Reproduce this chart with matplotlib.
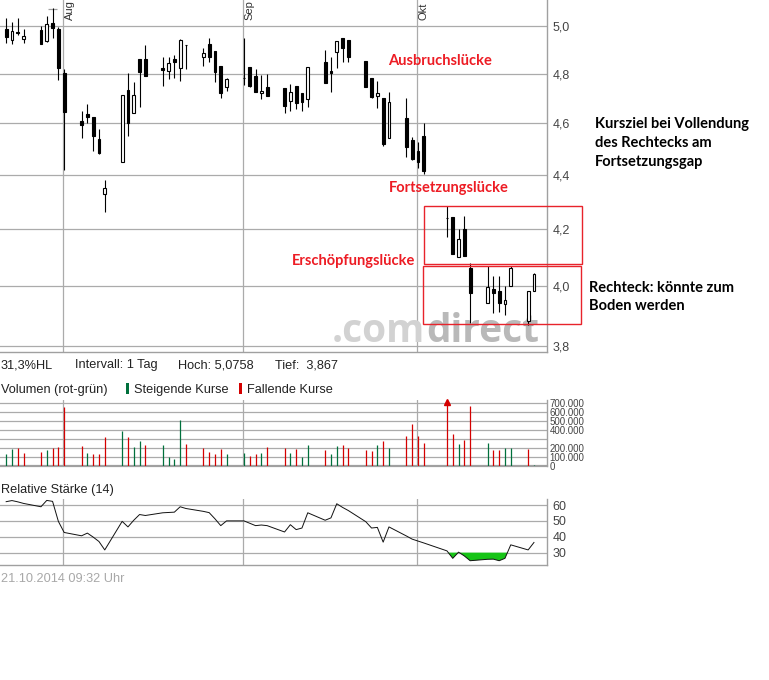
import numpy as np
import matplotlib
matplotlib.use('Agg')
import matplotlib.pyplot as plt
import matplotlib.dates as mdates
import matplotlib.transforms as mtransforms
from matplotlib.patches import Rectangle
from matplotlib.ticker import FixedLocator, NullLocator, FuncFormatter

plt.rcParams['font.family'] = ['Liberation Sans', 'DejaVu Sans']

# ---- data ----
days = ['2014-07-22', '2014-07-23', '2014-07-24', '2014-07-25', '2014-07-28', '2014-07-29', '2014-07-30',
        '2014-07-31', '2014-08-01', '2014-08-04', '2014-08-05', '2014-08-06', '2014-08-07', '2014-08-08',
        '2014-08-11', '2014-08-12', '2014-08-13', '2014-08-14', '2014-08-15', '2014-08-18', '2014-08-19',
        '2014-08-20', '2014-08-21', '2014-08-22', '2014-08-25', '2014-08-26', '2014-08-27', '2014-08-28',
        '2014-08-29', '2014-09-01', '2014-09-02', '2014-09-03', '2014-09-04', '2014-09-05', '2014-09-08',
        '2014-09-09', '2014-09-10', '2014-09-11', '2014-09-12', '2014-09-15', '2014-09-16', '2014-09-17',
        '2014-09-18', '2014-09-19', '2014-09-22', '2014-09-23', '2014-09-24', '2014-09-25', '2014-09-26',
        '2014-09-29', '2014-09-30', '2014-10-01', '2014-10-02', '2014-10-06', '2014-10-07', '2014-10-08',
        '2014-10-09', '2014-10-10', '2014-10-13', '2014-10-14', '2014-10-15', '2014-10-16', '2014-10-17',
        '2014-10-20', '2014-10-21']

opens = [4.987, 4.940, 4.974, 4.945, 4.983, 4.936, 5.013, 4.987, 4.802, 4.608, 4.636, 4.624, 4.538, 4.329,
         4.449, 4.733, 4.640, 4.860, 4.860, 4.823, 4.811, 4.860, 4.823, 4.919, 4.869, 4.923, 4.894, 4.831,
         4.745, 4.782, 4.827, 4.790, 4.721, 4.745, 4.741, 4.688, 4.749, 4.721, 4.696, 4.848, 4.811, 4.890,
         4.949, 4.940, 4.852, 4.782, 4.708, 4.700, 4.542, 4.620, 4.534, 4.491, 4.550, 4.241, 4.244, 4.101,
         4.200, 4.062, 3.942, 3.990, 3.983, 3.939, 4.000, 3.882, 3.983]
highs = [5.034, 5.017, 5.034, 4.987, 5.000, 5.043, 5.076, 4.996, 4.819, 4.648, 4.676, 4.624, 4.577, 4.382,
         4.712, 4.802, 4.765, 4.860, 4.919, 4.869, 4.869, 4.877, 4.945, 4.919, 4.906, 4.949, 4.894, 4.831,
         4.782, 4.949, 4.827, 4.819, 4.794, 4.798, 4.741, 4.757, 4.749, 4.721, 4.827, 4.898, 4.869, 4.936,
         4.949, 4.940, 4.852, 4.782, 4.769, 4.700, 4.725, 4.700, 4.546, 4.526, 4.601, 4.284, 4.244, 4.200,
         4.248, 4.080, 4.069, 4.035, 4.035, 4.000, 4.069, 3.983, 4.045]
lows = [4.928, 4.923, 4.962, 4.928, 4.923, 4.932, 4.949, 4.774, 4.419, 4.542, 4.601, 4.491, 4.480, 4.262,
        4.449, 4.550, 4.640, 4.664, 4.790, 4.749, 4.778, 4.782, 4.769, 4.819, 4.831, 4.848, 4.765, 4.700,
        4.729, 4.753, 4.745, 4.725, 4.696, 4.708, 4.640, 4.648, 4.656, 4.648, 4.664, 4.761, 4.725, 4.823,
        4.848, 4.848, 4.745, 4.700, 4.660, 4.511, 4.542, 4.468, 4.457, 4.426, 4.404, 4.172, 4.111, 4.101,
        4.104, 3.875, 3.942, 3.908, 3.912, 3.902, 4.000, 3.867, 3.983]
closes = [4.953, 4.979, 4.970, 4.957, 4.923, 5.009, 4.991, 4.823, 4.644, 4.593, 4.624, 4.550, 4.484, 4.352,
          4.712, 4.601, 4.712, 4.806, 4.790, 4.815, 4.844, 4.848, 4.940, 4.919, 4.885, 4.869, 4.806, 4.721,
          4.778, 4.782, 4.749, 4.725, 4.729, 4.708, 4.668, 4.725, 4.680, 4.684, 4.827, 4.761, 4.802, 4.936,
          4.906, 4.869, 4.745, 4.704, 4.721, 4.518, 4.684, 4.507, 4.461, 4.449, 4.416, 4.241, 4.111, 4.165,
          4.104, 3.976, 3.997, 3.976, 3.942, 3.952, 4.062, 3.983, 4.042]

volumes = [131000, 188000, 202000, 143000, 154000, 176000, 199000, 210000, 660000, 221000,
           143000, 131000, 131000, 322000, 390000, 322000, 210000, 277000, 232000, 232000,
           97000, 75000, 514000, 243000, 199000, 154000, 131000, 188000, 131000, 143000,
           109000, 131000, 143000, 210000, 202000, 143000, 188000, 97000, 232000, 176000,
           131000, 221000, 232000, 202000, 176000, 165000, 232000, 277000, 202000, 333000,
           468000, 333000, 255000, 1150000, 356000, 243000, 289000, 671000, 255000, 176000,
           176000, 199000, 199000, 188000, 5000]
vol_up = ['g', 'g', 'r', 'r', 'r', 'g', 'r', 'r', 'r', 'r', 'g', 'r', 'r', 'r', 'g', 'r', 'g', 'g', 'r', 'g',
          'g', 'g', 'g', 'r', 'r', 'r', 'r', 'r', 'g', 'g', 'r', 'r', 'g', 'r', 'r', 'g', 'r', 'g', 'g', 'r',
          'g', 'g', 'r', 'r', 'r', 'r', 'g', 'r', 'g', 'r', 'r', 'r', 'r', 'r', 'r', 'g', 'r', 'r', 'g', 'r',
          'r', 'g', 'g', 'r', 'g']

rsi = [62.1, 62.8, 62.0, 61.0, 58.9, 62.9, 62.3, 49.7, 42.7, 40.6, 42.3, 39.8, 37.0, 31.7, 49.7, 46.2,
       50.4, 54.0, 53.4, 55.1, 55.3, 55.5, 58.9, 57.8, 56.0, 55.2, 51.3, 47.0, 50.0, 50.0, 48.5, 47.0,
       47.4, 47.0, 43.0, 47.6, 44.5, 45.5, 55.1, 50.4, 51.9, 60.8, 58.5, 56.5, 49.5, 45.5, 45.9, 36.6,
       46.2, 40.5, 38.5, 37.3, 36.1, 31.1, 26.4, 30.3, 27.9, 24.9, 25.8, 25.9, 24.9, 26.4, 34.9, 31.7, 36.4]

hoch = 5.0758
tief = 3.867
months = ['2014-08-01', '2014-09-01', '2014-10-01']
month_labels = ['Aug', 'Sep', 'Okt']
price_ticks = [3.8, 4.0, 4.2, 4.4, 4.6, 4.8, 5.0]
vol_ticks = [0, 100000, 200000, 300000, 400000, 500000, 600000, 700000]
vol_labelled = [0, 100000, 200000, 400000, 500000, 600000, 700000]
rsi_ticks = [30, 40, 50, 60]

# gap boxes: (start, end, low, high)
gap_boxes = [('2014-10-02T06', '2014-10-29T12', 4.076, 4.284),
             ('2014-10-02T02', '2014-10-29T07', 3.871, 4.069)]

# ---- layout ----
W, H = 769, 680
GRID = '#ababab'
RED = '#d40000'
GREEN = '#00703c'
TXT = '#222222'


def fx(px):
    return px / W


def fy(py):
    return 1 - py / H


fig = plt.figure(figsize=(W / 100, H / 100), dpi=100)
ax = fig.add_axes([0, fy(352), fx(547), 352 / H])
axv = fig.add_axes([0, fy(466), fx(547), (466 - 400) / H])
axr = fig.add_axes([0, fy(565), fx(547), (565 - 499.3) / H])

x = mdates.date2num(np.array(days, dtype='datetime64[D]')) + 0.2
mx = mdates.date2num(np.array(months, dtype='datetime64[D]'))
px_day = 5.8
xlim = (mx[0] - 63 / px_day, mx[0] + 484 / px_day)

for a in (ax, axv, axr):
    a.set_xlim(*xlim)
    a.set_xticks([])
    for s in ('top', 'left'):
        a.spines[s].set_visible(False)
    for s in ('right', 'bottom'):
        a.spines[s].set_color('#a0a0a0')
        a.spines[s].set_linewidth(1.0)
    a.yaxis.tick_right()
    a.tick_params(axis='y', length=0, colors='#444444')
    a.grid(axis='y', color=GRID, lw=0.9)
    a.set_axisbelow(True)
    for m in mx:
        a.axvline(m, color=GRID, lw=0.9, zorder=0.6)

# ---- price panel ----
ax.set_yscale('log')
ax.set_ylim(3.780, 5.113)
ax.yaxis.set_major_locator(FixedLocator(price_ticks))
ax.yaxis.set_minor_locator(NullLocator())
ax.yaxis.set_major_formatter(FuncFormatter(lambda v, p: f'{v:.1f}'.replace('.', ',')))
ax.tick_params(axis='y', labelsize=9, pad=4)

bw = 0.5
o = np.array(opens)
c = np.array(closes)
ax.vlines(x, lows, highs, color='black', lw=0.8, zorder=3)
ax.bar(x, np.abs(c - o), bottom=np.minimum(o, c), width=bw,
       color=np.where(c < o, 'black', 'white'), edgecolor='black', linewidth=0.8, zorder=4)

i_hi = int(np.argmax(highs))
i_lo = int(np.argmin(lows))
ax.hlines([hoch, tief], [x[i_hi] - 0.85, x[i_lo] - 0.85], [x[i_hi] + 0.85, x[i_lo] + 0.85],
          color='#a0a0a0', lw=0.9, zorder=2)

lab_tr = mtransforms.blended_transform_factory(ax.transData, ax.transAxes)
for m, lab in zip(mx, month_labels):
    ax.text(m + 2 / px_day, 1 - 19.5 / 352, lab, transform=lab_tr, rotation=90,
            ha='left', va='bottom', fontsize=8, color='#333333')

# watermark
ax.text(fx(425), fy(341.5), '.com', transform=fig.transFigure, ha='right', va='baseline',
        fontsize=28, family='Open Sans', weight='bold', color='#d2d2d2', zorder=1)
ax.text(fx(426), fy(341.5), 'direct', transform=fig.transFigure, ha='left', va='baseline',
        fontsize=28, family='Open Sans', weight='bold', color='#b9b9b9', zorder=1)

# gap rectangles
for start, end, lo, hi in gap_boxes:
    x0 = mdates.date2num(np.datetime64(start))
    x1 = mdates.date2num(np.datetime64(end))
    ax.add_patch(Rectangle((x0, lo), x1 - x0, hi - lo, fill=False, edgecolor='#e8232b',
                           lw=1.0, clip_on=False, zorder=5))

# annotations
ann_red = [('Ausbruchslücke', 388, 65), ('Fortsetzungslücke', 389, 192), ('Erschöpfungslücke', 292, 265)]
for t, px, py in ann_red:
    fig.text(fx(px), fy(py), t, family='Lato', weight='bold', fontsize=10.5, color='#ed1c24', va='baseline')
ann_black = [('Kursziel bei Vollendung', 595, 128), ('des Rechtecks am', 595, 147),
             ('Fortsetzungsgap', 595, 166), ('Rechteck: könnte zum', 589, 291.5), ('Boden werden', 589, 310.5)]
for t, px, py in ann_black:
    fig.text(fx(px), fy(py), t, family='Lato', weight='bold', fontsize=10.5, color='black', va='baseline')

# info line
info = [('31,3%HL', 1), ('Intervall: 1 Tag', 75), ('Hoch: ' + f'{hoch:.4f}'.replace('.', ','), 178),
        ('Tief:  ' + f'{tief:.3f}'.replace('.', ','), 275)]
for t, px in info:
    fig.text(fx(px), fy(368), t, fontsize=9.2, color=TXT, va='baseline')

fig.text(fx(1), fy(393), 'Volumen (rot-grün)', fontsize=9.2, color=TXT, va='baseline')
fig.patches.append(Rectangle((fx(126), fy(394)), 3 / W, 11 / H, transform=fig.transFigure,
                             facecolor=GREEN, edgecolor='none'))
fig.text(fx(134), fy(393), 'Steigende Kurse', fontsize=9.2, color=TXT, va='baseline')
fig.patches.append(Rectangle((fx(239), fy(394)), 3 / W, 11 / H, transform=fig.transFigure,
                             facecolor=RED, edgecolor='none'))
fig.text(fx(247), fy(393), 'Fallende Kurse', fontsize=9.2, color=TXT, va='baseline')

# ---- volume panel ----
axv.set_ylim(-3000, 737000)
axv.yaxis.set_major_locator(FixedLocator(vol_ticks))
axv.yaxis.set_major_formatter(FuncFormatter(
    lambda v, p: f'{int(round(v)):,}'.replace(',', '.') if int(round(v)) in vol_labelled else ''))
axv.tick_params(axis='y', labelsize=7, pad=2)
axv.spines['bottom'].set_linewidth(1.6)
vcol = [GREEN if u == 'g' else RED for u in vol_up]
axv.vlines(x, 0, volumes, colors=vcol, lw=0.9, zorder=3)
vtop = axv.get_ylim()[1]
for xi, v, col in zip(x, volumes, vcol):
    if v > vtop:
        axv.plot(xi, 712000, marker='^', ms=5, color=col, clip_on=False, zorder=4)

# ---- RSI panel ----
axr.set_ylim(22.2, 63.6)
axr.yaxis.set_major_locator(FixedLocator(rsi_ticks))
axr.tick_params(axis='y', labelsize=9, pad=4)
r = np.array(rsi)
axr.fill_between(x, r, 30, where=r < 30, interpolate=True, color='#17c417', lw=0, zorder=2)
axr.plot(x, r, color='#111111', lw=0.7, zorder=3)

fig.text(fx(1), fy(492.5), 'Relative Stärke (14)', fontsize=9.2, color=TXT, va='baseline')
fig.text(fx(1), fy(581.5), '21.10.2014 09:32 Uhr', fontsize=9.2, color='#a8a8a8', va='baseline')

fig.savefig('out.png', dpi=100)
